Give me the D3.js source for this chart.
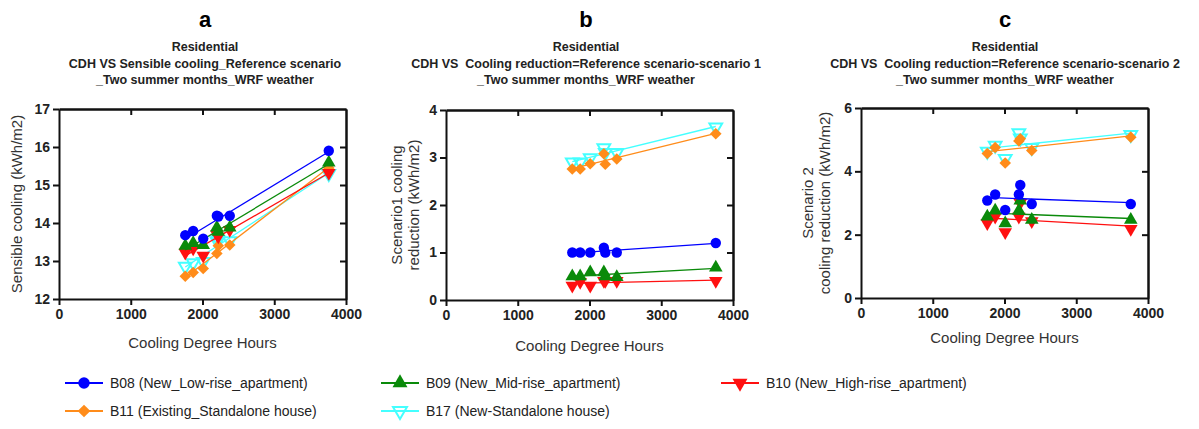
<!DOCTYPE html>
<html>
<head>
<meta charset="utf-8">
<script src="https://cdn.jsdelivr.net/npm/d3@7"></script>
<style>
  body { margin: 0; background: #fff; }
  svg { font-family: 'Liberation Sans', Arial, sans-serif; }
  .tick text { font-weight: bold; font-size: 14px; fill: #222; }
</style>
</head>
<body>
<svg width="1199" height="429"></svg>
<script>
// Cooling Degree Hours of the 7 locations (shared x values)
const cdh = [1760, 1870, 2010, 2200, 2220, 2380, 3760];

const buildingKeys = ['B08', 'B09', 'B10', 'B11', 'B17'];
const buildingLabels = [
    'B08 (New_Low-rise_apartment)',
    'B09 (New_Mid-rise_apartment)',
    'B10 (New_High-rise_apartment)',
    'B11 (Existing_Standalone house)',
    'B17 (New-Standalone house)'
];
const buildingColors = ['#0000ff', '#0a8a0a', '#ff1010', '#ff8c1a', '#44ffff'];

// panel a: sensible cooling, reference scenario (kWh/m2)
const refB08 = [13.68, 13.79, 13.59, 14.19, 14.17, 14.19, 15.90];
const refB09 = [13.40, 13.47, 13.42, 13.88, 13.77, 13.88, 15.59];
const refB10 = [13.22, 13.33, 13.14, 13.70, 13.65, 13.82, 15.32];
const refB11 = [12.60, 12.70, 12.80, 13.20, 13.40, 13.42, 15.45];
const refB17 = [12.86, 12.95, 12.98, 13.53, 13.55, 13.53, 15.30];

// panel b: reduction reference - scenario 1 (kWh/m2)
const s1B08 = [1.00, 1.00, 1.00, 1.10, 1.00, 1.00, 1.20];
const s1B09 = [0.50, 0.50, 0.58, 0.58, 0.50, 0.48, 0.68];
const s1B10 = [0.30, 0.38, 0.30, 0.40, 0.40, 0.40, 0.40];
const s1B11 = [2.76, 2.76, 2.87, 3.08, 2.86, 2.97, 3.50];
const s1B17 = [2.90, 2.90, 2.99, 3.20, 3.10, 3.10, 3.64];

// panel c: reduction reference - scenario 2 (kWh/m2)
const s2B08 = [3.08, 3.27, 2.78, 3.27, 3.57, 2.97, 2.97];
const s2B09 = [2.57, 2.76, 2.36, 2.76, 3.08, 2.47, 2.47];
const s2B10 = [2.36, 2.57, 2.08, 2.57, 3.00, 2.43, 2.18];
const s2B11 = [4.56, 4.75, 4.26, 4.96, 5.03, 4.66, 5.08];
const s2B17 = [4.63, 4.82, 4.40, 5.21, 5.05, 4.75, 5.16];

const xTicks = [0, 1000, 2000, 3000, 4000];

function main() {
    let svg = d3.select('svg');
    let fmt = d3.format('d');

    let panels = [
        {
            letter: 'a', cx: 205, left: 59, top: 109,
            title: ['Residential', 'CDH VS Sensible cooling_Reference scenario', '_Two summer months_WRF weather'],
            yDomain: [12, 17], yTicks: [12, 13, 14, 15, 16, 17],
            yTitle: ['Sensible cooling (kWh/m2)'], yTitleX: 17, xTitleY: 348,
            series: [refB08, refB09, refB10, refB11, refB17]
        },
        {
            letter: 'b', cx: 586, left: 446, top: 110,
            title: ['Residential', 'CDH VS  Cooling reduction=Reference scenario-scenario 1', '_Two summer months_WRF weather'],
            yDomain: [0, 4], yTicks: [0, 1, 2, 3, 4],
            yTitle: ['Scenario1 cooling', 'reduction (kWh/m2)'], yTitleX: 397, xTitleY: 351,
            series: [s1B08, s1B09, s1B10, s1B11, s1B17]
        },
        {
            letter: 'c', cx: 1005, left: 861, top: 108,
            title: ['Residential', 'CDH VS  Cooling reduction=Reference scenario-scenario 2', '_Two summer months_WRF weather'],
            yDomain: [0, 6], yTicks: [0, 2, 4, 6],
            yTitle: ['Scenario 2', 'cooling reduction (kWh/m2)'], yTitleX: 808, xTitleY: 343,
            series: [s2B08, s2B09, s2B10, s2B11, s2B17]
        }
    ];

    let pw = 287, ph = 190;

    panels.forEach((p) => {
        let g = svg.append('g');

        // Title
        g.append('text')
            .attr('x', p.cx).attr('y', 27)
            .attr('text-anchor', 'middle')
            .style('font-size', '22px').style('font-weight', 'bold')
            .text(p.letter);
        p.title.forEach((t, i) => {
            g.append('text')
                .attr('x', p.cx).attr('y', 51 + i * 16.5)
                .attr('text-anchor', 'middle')
                .style('font-size', '12.5px').style('font-weight', 'bold')
                .style('fill', '#222')
                .style('white-space', 'pre')
                .text(t);
        });

        let xScale = d3.scaleLinear().domain([0, 4000]).range([p.left, p.left + pw]);
        let yScale = d3.scaleLinear().domain(p.yDomain).range([p.top + ph, p.top]);

        // frame (mirror axes with inward ticks)
        let inner = p.yTicks.slice(1, -1);
        let innerX = xTicks.slice(1, -1);

        g.append('g')
            .attr('class', 'axis')
            .attr('transform', 'translate(0,' + (p.top + ph) + ')')
            .call(d3.axisBottom(xScale).tickValues(xTicks).tickFormat(fmt).tickSize(6).tickSizeOuter(0).tickPadding(4));
        g.append('g')
            .attr('class', 'axis')
            .attr('transform', 'translate(' + p.left + ',0)')
            .call(d3.axisLeft(yScale).tickValues(p.yTicks).tickFormat(fmt).tickSize(6).tickSizeOuter(0).tickPadding(3));
        g.append('g')
            .attr('transform', 'translate(0,' + p.top + ')')
            .call(d3.axisBottom(xScale).tickValues(innerX).tickSize(6).tickSizeOuter(0).tickFormat(''));
        g.append('g')
            .attr('transform', 'translate(' + (p.left + pw) + ',0)')
            .call(d3.axisLeft(yScale).tickValues(inner).tickSize(6).tickSizeOuter(0).tickFormat(''));
        g.append('g')
            .attr('transform', 'translate(0,' + p.top + ')')
            .call(d3.axisTop(xScale).tickValues([]).tickSizeOuter(0));
        g.append('g')
            .attr('transform', 'translate(' + (p.left + pw) + ',0)')
            .call(d3.axisRight(yScale).tickValues([]).tickSizeOuter(0));

        g.selectAll('.domain').attr('stroke', '#111').attr('stroke-width', 2);
        g.selectAll('.tick line').attr('stroke', '#111').attr('stroke-width', 2);

        // Axis titles
        g.append('text')
            .attr('x', p.left + pw / 2).attr('y', p.xTitleY)
            .attr('text-anchor', 'middle')
            .style('font-size', '15px').style('fill', '#333')
            .text('Cooling Degree Hours');
        p.yTitle.forEach((t, i) => {
            g.append('text')
                .attr('transform', 'translate(' + (p.yTitleX + i * 16.5) + ',' + (p.top + ph / 2) + ') rotate(-90)')
                .attr('text-anchor', 'middle')
                .attr('dy', '0.35em')
                .style('font-size', '15px').style('fill', '#333')
                .text(t);
        });

        // Fit lines and markers, drawn back to front
        let order = [4, 3, 2, 1, 0];
        order.forEach((k) => {
            let vals = p.series[k];
            let mx = d3.mean(cdh), my = d3.mean(vals);
            let sxy = d3.sum(cdh, (x, i) => (x - mx) * (vals[i] - my));
            let sxx = d3.sum(cdh, (x) => (x - mx) * (x - mx));
            let slope = sxy / sxx, icpt = my - slope * mx;
            let x0 = d3.min(cdh), x1 = d3.max(cdh);
            g.append('line')
                .attr('x1', xScale(x0)).attr('y1', yScale(icpt + slope * x0))
                .attr('x2', xScale(x1)).attr('y2', yScale(icpt + slope * x1))
                .attr('stroke', buildingColors[k]).attr('stroke-width', 1.3);
            g.selectAll(null)
                .data(vals)
                .enter()
                .append('path')
                .attr('transform', (d, i) => 'translate(' + xScale(cdh[i]) + ',' + yScale(d) + ')')
                .call(markerStyle, k);
        });
    });

    // Legend
    let legendPos = [[84, 383], [400, 383], [740, 383], [84, 411], [400, 411]];
    buildingKeys.forEach((key, k) => {
        let lg = svg.append('g').attr('transform', 'translate(' + legendPos[k][0] + ',' + legendPos[k][1] + ')');
        lg.append('line')
            .attr('x1', -19).attr('x2', 19)
            .attr('stroke', buildingColors[k]).attr('stroke-width', 2);
        lg.append('path').call(markerStyle, k, 1.1);
        lg.append('text')
            .attr('x', 26).attr('dy', '0.35em')
            .style('font-size', '14px').style('fill', '#222')
            .text(buildingLabels[k]);
    });
}

function markerStyle(sel, k, scale) {
    scale = scale || 1;
    let sizes = [85, 80, 80, 85, 70];
    let types = [d3.symbolCircle, d3.symbolTriangle, d3.symbolTriangle, d3.symbolDiamond2, d3.symbolTriangle];
    let sym = d3.symbol().type(types[k]).size(sizes[k] * scale * scale);
    sel.attr('d', sym())
        .attr('transform', function () {
            let t = d3.select(this).attr('transform') || '';
            return (k === 2 || k === 4) ? t + ' rotate(180)' : t;
        });
    if (k === 4) {
        sel.attr('fill', 'none').attr('stroke', buildingColors[k]).attr('stroke-width', 2);
    } else {
        sel.attr('fill', buildingColors[k]);
    }
}

main();
</script>
</body>
</html>
